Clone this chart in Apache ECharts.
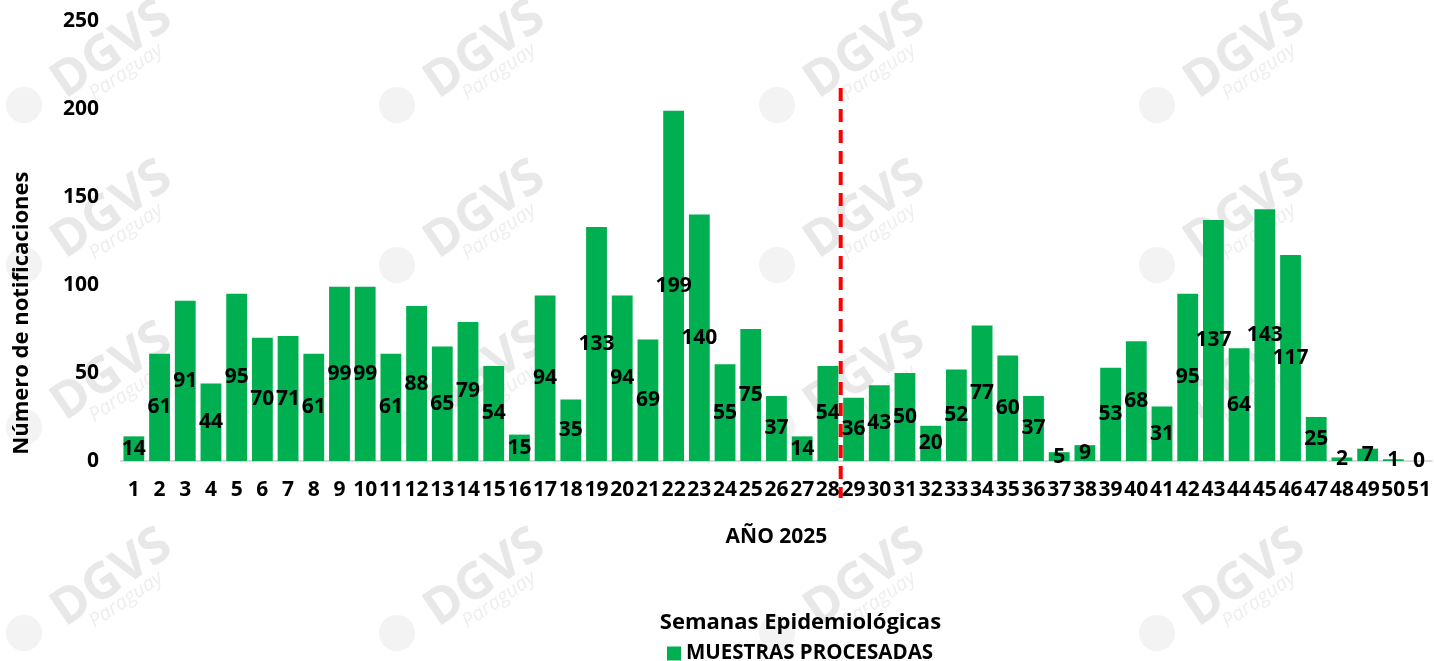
<!DOCTYPE html>
<html>
<head>
<meta charset="utf-8">
<script src="https://cdn.jsdelivr.net/npm/echarts@6/dist/echarts.min.js"></script>
<style>
html,body{margin:0;padding:0;background:#fff;}
#chart{width:1434px;height:661px;}
</style>
</head>
<body>
<div id="chart"></div>
<script>
const weeks = ['1','2','3','4','5','6','7','8','9','10','11','12','13','14','15','16','17','18','19','20','21','22','23','24','25','26','27','28','29','30','31','32','33','34','35','36','37','38','39','40','41','42','43','44','45','46','47','48','49','50','51'];
const muestras = [14,61,91,44,95,70,71,61,99,99,61,88,65,79,54,15,94,35,133,94,69,199,140,55,75,37,14,54,36,43,50,20,52,77,60,37,5,9,53,68,31,95,137,64,143,117,25,2,7,1,0];
const seriesName = 'MUESTRAS PROCESADAS';
const yTitle = 'Número de notificaciones';
const xTitle = 'AÑO 2025';
const bottomTitle = 'Semanas Epidemiológicas';
const splitAfterWeek = '28';
const splitLineTop = 212;
const splitLineBottom = -21;

const FONT = '"Open Sans", "Liberation Sans", sans-serif';
const chart = echarts.init(document.getElementById('chart'), null, {renderer:'canvas'});

// watermark decorations (background only)
const wm = [];
const wx = [112, 485, 865, 1245];
const wy = [50, 210, 372, 578];
wy.forEach(y => wx.forEach(x => {
  wm.push({type:'text', x:x, y:y, rotation:0.6, z:-10, silent:true,
    style:{text:'DGVS', font:'bold 50px '+FONT, fill:'#e8e8e8', textAlign:'center', textVerticalAlign:'middle'}});
  wm.push({type:'text', x:x+14, y:y+22, rotation:0.6, z:-10, silent:true,
    style:{text:'Paraguay', font:'italic 20px '+FONT, fill:'#eeeeee', textAlign:'center', textVerticalAlign:'middle'}});
  wm.push({type:'circle', x:x-88, y:y+55, z:-10, silent:true,
    shape:{r:18}, style:{fill:'#f3f3f3'}});
}));

chart.setOption({
  animation:false,
  backgroundColor:'#ffffff',
  textStyle:{fontFamily:FONT},
  grid:{left:121, right:-3, top:21, bottom:200, containLabel:false},
  legend:{
    data:[seriesName], top:638, left:662, itemWidth:14, itemHeight:14, icon:'rect', itemGap:5,
    textStyle:{fontFamily:FONT, fontWeight:'bold', fontSize:20.5, color:'#000'}
  },
  xAxis:{
    type:'category', data:weeks,
    name:xTitle, nameLocation:'middle', nameGap:66,
    nameTextStyle:{fontFamily:FONT, fontWeight:'bold', fontSize:21, color:'#000'},
    axisLine:{lineStyle:{color:'#d9d9d9', width:2}},
    axisTick:{show:false},
    axisLabel:{interval:0, margin:19, fontFamily:FONT, fontWeight:'bold', fontSize:21, color:'#000'}
  },
  yAxis:{
    type:'value', min:0, max:250, interval:50,
    axisLine:{show:false}, axisTick:{show:false}, splitLine:{show:false},
    axisLabel:{margin:22, fontFamily:FONT, fontWeight:'bold', fontSize:21, color:'#000'}
  },
  series:[{
    name:seriesName, type:'bar', data:muestras, barCategoryGap:'19%',
    itemStyle:{color:'#00B050'},
    label:{show:true, position:'inside', fontFamily:FONT, fontWeight:'bold', fontSize:21, color:'#000'}
  }],
  graphic: wm
});

const idx = weeks.indexOf(splitAfterWeek);
const xA = chart.convertToPixel({xAxisIndex:0}, weeks[idx]);
const xB = chart.convertToPixel({xAxisIndex:0}, weeks[idx+1]);
const xs = (xA + xB) / 2;
const yTop = chart.convertToPixel({yAxisIndex:0}, splitLineTop);
const yBot = chart.convertToPixel({yAxisIndex:0}, splitLineBottom);
const bottomTitleY = chart.convertToPixel({yAxisIndex:0}, -92);
const yTitleY = chart.convertToPixel({yAxisIndex:0}, 84);
const gridRect = chart.getModel().getComponent('grid').coordinateSystem.getRect();

chart.setOption({
  graphic: wm.concat([
    {type:'line', z:100, silent:true,
      shape:{x1:xs, y1:yTop, x2:xs, y2:yBot},
      style:{stroke:'#FF0000', lineWidth:4, lineDash:[13,8]}},
    {type:'text', z:100, silent:true,
      x: gridRect.x + gridRect.width/2 + 24, y: bottomTitleY,
      style:{text:bottomTitle, font:'bold 22px '+FONT, fill:'#000', textAlign:'center', textVerticalAlign:'middle'}},
    {type:'text', z:100, silent:true, x:22, y:yTitleY, rotation:Math.PI/2,
      style:{text:yTitle, font:'bold 22px '+FONT, fill:'#000', textAlign:'center', textVerticalAlign:'middle'}}
  ])
});
</script>
</body>
</html>
